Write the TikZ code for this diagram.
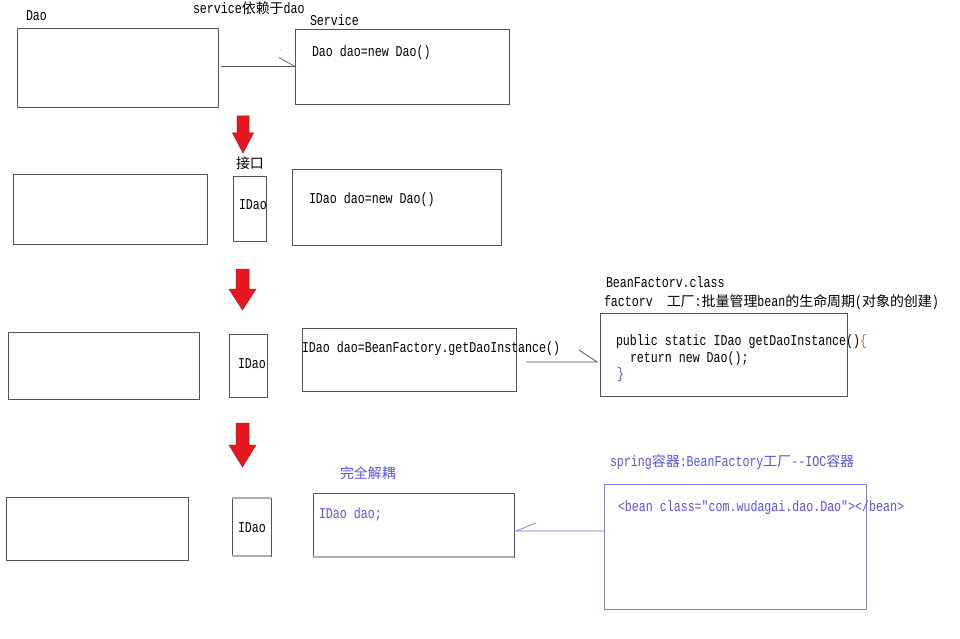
\documentclass[tikz,border=0pt]{standalone}
\usepackage{fontspec}
\setmonofont{Liberation Mono}[FakeStretch=0.775]
\newfontfamily\cjk{Noto Sans CJK SC}[Scale=0.93]
\definecolor{boxgray}{RGB}{85,85,85}
\definecolor{softgray}{RGB}{175,175,175}
\definecolor{arrowred}{RGB}{232,22,32}
\definecolor{arrowdark}{RGB}{190,20,28}
\definecolor{bluetext}{RGB}{85,85,225}
\definecolor{blueline}{RGB}{130,130,228}
\definecolor{paleblue}{RGB}{200,200,242}
\definecolor{braceorange}{RGB}{190,120,60}
\definecolor{braceblue}{RGB}{70,90,190}
\tikzset{
  box/.style={draw=boxgray, line width=0.8pt, inner sep=0pt, outer sep=0pt, anchor=north west},
  lbl/.style={inner sep=0pt, outer sep=0pt, anchor=base west, font=\ttfamily\fontsize{15}{17}\selectfont},
  conn/.style={draw=boxgray, line width=0.7pt},
}
% down-pointing block arrow: centre x, top, head start, tip, shaft half width, head half width
\newcommand\redarrowshape[6]{%
  \fill[arrowred, draw=arrowdark, line width=0.5pt]
    (#1-#5,#2) -- (#1+#5,#2) -- (#1+#5,#3) -- (#1+#6,#3) -- (#1,#4)
    -- (#1-#6,#3) -- (#1-#5,#3) -- cycle;}
\begin{document}
\begin{tikzpicture}[x=1pt,y=-1pt]
\useasboundingbox (0,0) rectangle (960,639);
\fill[white] (0,0) rectangle (960,639);

% ---- stage 1: service depends on dao
\node[box, minimum width=201pt, minimum height=79pt] (dao1) at (17,28) {};
\node[box, minimum width=214pt, minimum height=75pt] (srv1) at (295,29) {};
\node[lbl] (tdao) at (26,21) {Dao};
\node[lbl] (tdep) at (193,14) {service{\cjk 依赖于}dao};
\node[lbl] (tsrv) at (310,26) {Service};
\node[lbl] (tnew1) at (312,57) {Dao dao=new Dao()};
\draw[conn] (dao1.east |- srv1.west) ++(3,0) -- (srv1.west) -- ++(-16,-9);
\fill[softgray] (281,50) circle (0.7);

\redarrowshape{243}{116}{133}{153}{6}{10.5}

% ---- stage 2: interface
\node[box, minimum width=194pt, minimum height=70pt] (l2) at (13,174) {};
\node[box, minimum width=33pt, minimum height=65pt] (i2) at (233,176) {};
\node[box, minimum width=209pt, minimum height=76pt] (r2) at (292,169) {};
\node[lbl] (tif) at (236,168) {{\cjk 接口}};
\node[lbl] (ti2) at (239,209) {IDao};
\node[lbl] (tnew2) at (309,204) {IDao dao=new Dao()};

\redarrowshape{242.5}{269}{289}{310}{6.5}{13.5}

% ---- stage 3: factory
\node[box, minimum width=191pt, minimum height=67pt] (l3) at (8,332) {};
\node[box, minimum width=38pt, minimum height=63pt] (i3) at (229,334) {};
\node[box, minimum width=214pt, minimum height=63pt] (mid3) at (302,328) {};
\node[box, minimum width=247pt, minimum height=83pt] (fac) at (600,313) {};
\node[lbl] (ti3) at (238,368) {IDao};
\node[lbl] (tget) at (302,352) {IDao dao=BeanFactory.getDaoInstance()};
\node[lbl] (tcls) at (606,287) {BeanFactorv.class};
\node[lbl] (tfac) at (604,306) {factorv\ \ {\cjk 工厂}:{\cjk 批量管理}bean{\cjk 的生命周期}({\cjk 对象的创建})};
\node[lbl] (tc1) at (616,345) {public static IDao getDaoInstance(){\color{braceorange}\{}};
\node[lbl] (tc2) at (630,362) {return new Dao();};
\node[lbl] (tc3) at (617,378) {{\color{braceblue}\}}};
\coordinate (c3s) at (526,362);
\coordinate (c3e) at (597,362);
\draw[conn] (c3s) -- (c3e) -- ++(-18,-12);

\redarrowshape{242.5}{423}{445}{467}{6.5}{13.5}

% ---- stage 4: IOC container
\node[box, minimum width=182pt, minimum height=63pt] (l4) at (6,497) {};
\node[box, minimum width=39pt, minimum height=58pt] (i4) at (232,498) {};
\draw[softgray, line width=1.6pt] (i4.north west) -- (i4.north east) (i4.south west) -- (i4.south east);
\node[box, minimum width=201pt, minimum height=64pt] (mid4) at (313,493) {};
\draw[softgray, line width=1.6pt] (mid4.south west) -- (mid4.south east);
\node[box, draw=blueline, minimum width=262pt, minimum height=125pt] (ioc) at (604,484) {};
\node[lbl] (ti4) at (238,532) {IDao};
\node[lbl, text=bluetext] (tdec) at (340,478) {{\cjk 完全解耦}};
\node[lbl, text=bluetext] (tdao4) at (319,518) {IDao dao;};
\node[lbl, text=bluetext] (tspr) at (610,466) {spring{\cjk 容器}:BeanFactory{\cjk 工厂}--IOC{\cjk 容器}};
\node[lbl, text=bluetext] (tbean) at (618,511) {<bean class="com.wudagai.dao.Dao"></bean>};
\coordinate (c4s) at (516,531);
\draw[paleblue, line width=2pt] (ioc.west |- c4s) -- (c4s);
\draw[blueline, line width=0.8pt] (c4s) -- ++(20,-8);
\end{tikzpicture}
\end{document}
